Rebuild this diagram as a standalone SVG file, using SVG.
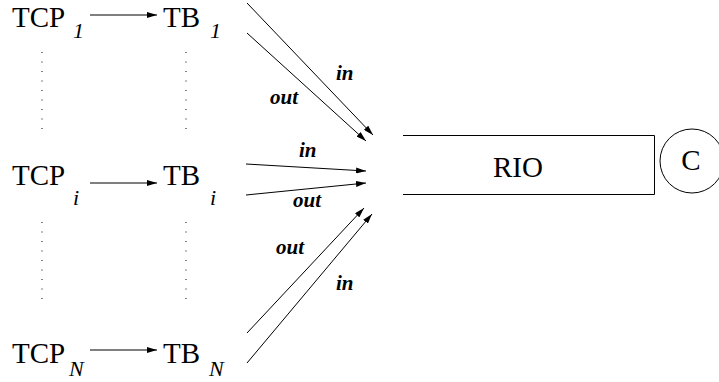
<svg xmlns="http://www.w3.org/2000/svg" width="719" height="382" viewBox="0 0 719 382">
  <style>
    .main { font-size: 29px; }
    .sub { font-size: 22px; font-style: italic; }
    .lbl { font-size: 21px; font-style: italic; font-weight: bold; }
    .edge { stroke: #000; stroke-width: 1; fill: none; }
    .dots { stroke: #000; stroke-width: 1; stroke-dasharray: 1 8.5; fill: none; }
    .box { stroke: #000; stroke-width: 1; fill: none; }
  </style>
  <defs>
    <marker id="arrow" viewBox="0 0 10 6" refX="10" refY="3" markerWidth="10" markerHeight="6" markerUnits="userSpaceOnUse" orient="auto">
      <path d="M0,0 L10,3 L0,6 Z" fill="#000"/>
    </marker>
  </defs>

  <rect width="719" height="382" fill="#fff"/>

  <g font-family="Liberation Serif, Times New Roman, Times, serif" fill="#000">
    <!-- flows 1 -->
    <g id="tcp1">
      <text class="main" x="12" y="27">TCP</text>
      <text class="sub" x="73" y="38">1</text>
    </g>
    <g id="tb1">
      <text class="main" x="163" y="27">TB</text>
      <text class="sub" x="210" y="38">1</text>
    </g>

    <!-- flows i -->
    <g id="tcpi">
      <text class="main" x="12" y="185">TCP</text>
      <text class="sub" x="73" y="205">i</text>
    </g>
    <g id="tbi">
      <text class="main" x="163" y="185">TB</text>
      <text class="sub" x="210" y="205">i</text>
    </g>

    <!-- flows N -->
    <g id="tcpN">
      <text class="main" x="12" y="363">TCP</text>
      <text class="sub" x="69" y="376">N</text>
    </g>
    <g id="tbN">
      <text class="main" x="163" y="363">TB</text>
      <text class="sub" x="209" y="376">N</text>
    </g>

    <!-- RIO queue, open on the left -->
    <g id="rio">
      <polyline class="box" points="403,135.5 654.5,135.5 654.5,194.5 403,194.5"/>
      <text class="main" x="518" y="177" text-anchor="middle" font-size="27">RIO</text>
    </g>

    <!-- link capacity -->
    <g id="capacity">
      <circle class="box" cx="692" cy="161" r="32"/>
      <text class="main" x="691" y="170" text-anchor="middle" font-size="27">C</text>
    </g>

    <g id="labels">
      <text class="lbl" x="336" y="80">in</text>
      <text class="lbl" x="270" y="104">out</text>
      <text class="lbl" x="299" y="157">in</text>
      <text class="lbl" x="293" y="207">out</text>
      <text class="lbl" x="276" y="254">out</text>
      <text class="lbl" x="336" y="290">in</text>
    </g>
  </g>

  <!-- ellipsis columns -->
  <g id="ellipsis">
    <line class="dots" x1="42" y1="52" x2="42" y2="130"/>
    <line class="dots" x1="186" y1="52" x2="186" y2="130"/>
    <line class="dots" x1="42" y1="222" x2="42" y2="300"/>
    <line class="dots" x1="186" y1="222" x2="186" y2="300"/>
  </g>

  <g id="connectors">
    <!-- TCP to token bucket -->
    <line class="edge" x1="90" y1="15" x2="157" y2="15" marker-end="url(#arrow)"/>
    <line class="edge" x1="90" y1="183" x2="157" y2="183" marker-end="url(#arrow)"/>
    <line class="edge" x1="90" y1="350" x2="157" y2="350" marker-end="url(#arrow)"/>

    <!-- flow 1 into RIO -->
    <line class="edge" x1="247" y1="3" x2="373" y2="135" marker-end="url(#arrow)"/>
    <line class="edge" x1="247" y1="33" x2="366" y2="141" marker-end="url(#arrow)"/>

    <!-- flow i into RIO -->
    <line class="edge" x1="246" y1="164" x2="366" y2="171" marker-end="url(#arrow)"/>
    <line class="edge" x1="246" y1="195" x2="366" y2="183" marker-end="url(#arrow)"/>

    <!-- flow N into RIO -->
    <line class="edge" x1="247" y1="333" x2="364" y2="208" marker-end="url(#arrow)"/>
    <line class="edge" x1="247" y1="363" x2="372" y2="214" marker-end="url(#arrow)"/>
  </g>
</svg>
